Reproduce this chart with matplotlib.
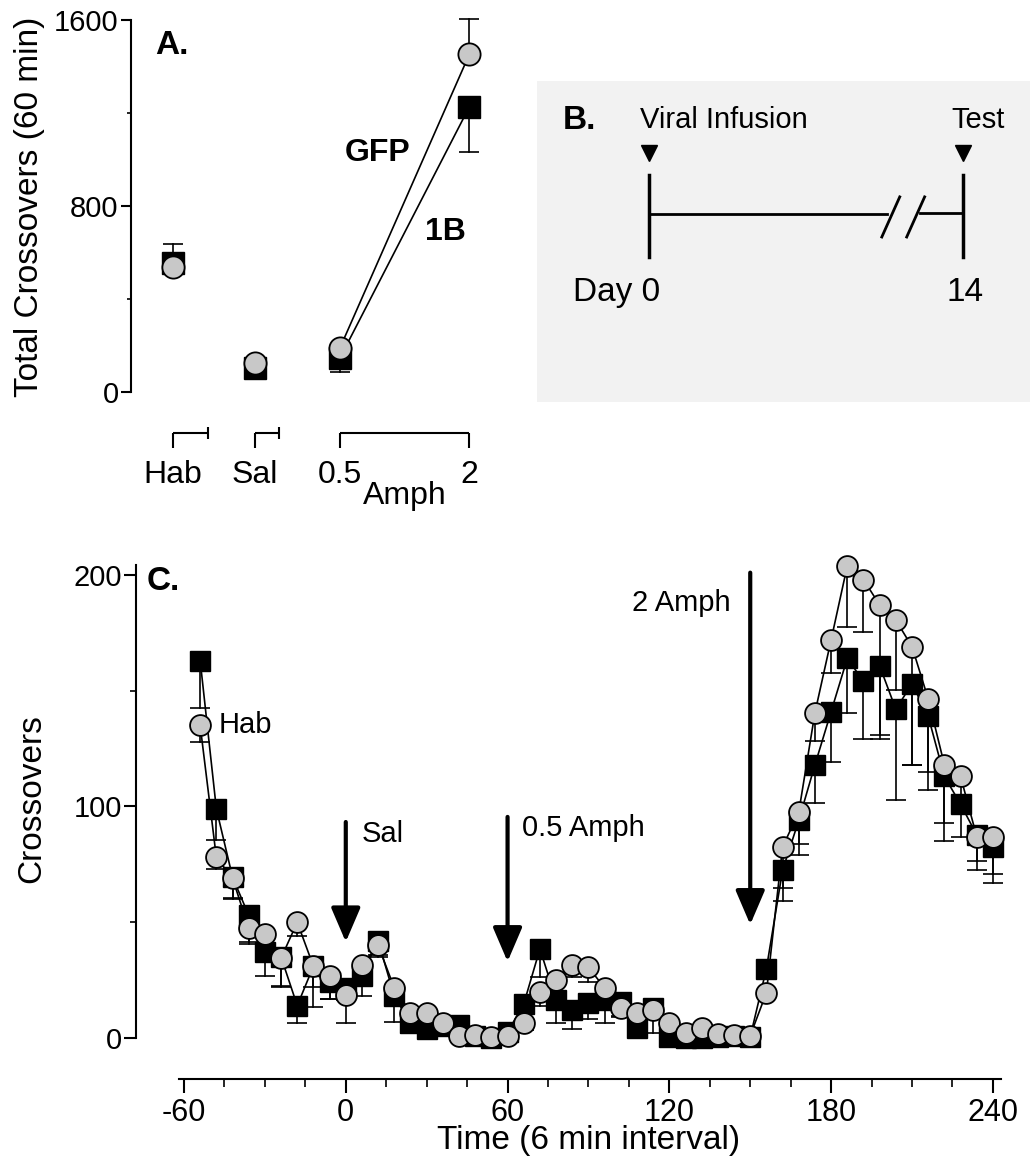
import matplotlib
matplotlib.use("Agg")
import matplotlib.pyplot as plt

plt.rcParams['font.family'] = ['Liberation Sans', 'DejaVu Sans']
plt.rcParams['axes.unicode_minus'] = False

# === DATA: panel A (total crossovers, 60 min) ===
COND_A = ['Hab', 'Sal', '0.5', '2']
X_A = [0, 0.98, 2.0, 3.55]          # horizontal slot of each condition
GFP_A = [538, 125, 189, 1452]
GFP_A_LO = [0, 0, 0, 0]
GFP_A_HI = [0, 0, 0, 152]
B1_A = [555, 103, 146, 1226]
B1_A_LO = [0, 0, 60, 194]
B1_A_HI = [81, 0, 0, 0]

# === DATA: panel C (crossovers per 6 min bin) ===
TIME = [-54, -48, -42, -36, -30, -24, -18, -12, -6,
        0, 6, 12, 18, 24, 30, 36, 42, 48, 54, 60,
        66, 72, 78, 84, 90, 96, 102, 108, 114, 120,
        126, 132, 138, 144, 150, 156, 162, 168, 174, 180,
        186, 192, 198, 204, 210, 216, 222, 228, 234, 240]
GFP_C = [135, 78, 69, 47.5, 45, 34.5, 50, 31, 27,
         18.6, 31.5, 40, 21.6, 11, 10.7, 6.5, 1, 1.3, 0.3, 1,
         6.5, 20, 25, 31.5, 30.6, 21.6, 13, 11, 12, 6.5,
         2.2, 4.3, 1.7, 1.3, 1, 19.6, 82.5, 97.6, 140.5, 172,
         204, 198, 187, 180.5, 169, 146.5, 118, 113, 87, 87]
GFP_C_ERR = [7, 5, 9, 7, 6, 12, 6, 9, 10,
             12, 5, 5, 5, 3, 3, 2, 1, 1, 0.5, 1,
             3, 6, 8, 5, 6.6, 6, 4, 2, 4, 2,
             1, 1, 1, 1, 1, 2, 17.5, 13.6, 12, 14.5,
             26.5, 22.5, 58, 30, 51, 31.5, 25, 10, 10.5, 16]
B1_C = [163, 99, 69.5, 53, 37, 35, 14, 31, 24,
        21.5, 27, 42, 18, 6.5, 4, 5, 5.6, 1, 0, 2.5,
        14.7, 38.5, 16.5, 12, 15, 16.4, 15.7, 4.3, 13, 0.5,
        0, 0, 0.4, 1, 0.5, 30, 72.5, 94, 118, 141,
        164, 154, 160.7, 142, 153, 139, 113, 101, 87.7, 82.5]
B1_C_ERR = [20.5, 13.5, 9, 11.5, 10, 13, 7.5, 17.5, 7,
            5, 9, 6, 11, 4.5, 2, 2, 2, 1, 0.5, 1,
            4, 12, 10, 8, 7, 10, 6, 2, 11, 0.5,
            0.5, 0.5, 0.5, 0.5, 0.5, 3, 13.5, 15, 16.5, 22,
            23.5, 25, 30, 39, 35, 31.7, 28, 14, 15, 15.5]

# injection arrows in panel C
ARROW_T = [0, 60, 150]
ARROW_TOP = [93.3, 95.5, 201]
ARROW_TIP = [41.5, 33, 49]

# === STYLE ===
FIG_W, FIG_H = 1030, 1164
GREY = '#c8c8c8'
TICK_FS = 21
LABEL_FS = 24
PANEL_FS = 24
LW = 1.2
CAP = 15
MS_C = 15

fig = plt.figure(figsize=(FIG_W / 100, FIG_H / 100), dpi=100)


def fig_rect(left, top, right, bottom):
    # pixel box -> figure fraction
    return [left / FIG_W, 1 - bottom / FIG_H,
            (right - left) / FIG_W, (bottom - top) / FIG_H]


def one_sided_err(ax, x, y, lo, hi, zorder):
    # only draw the bars that are really there (no caps for zero error)
    for xi, yi, l, h in zip(x, y, lo, hi):
        for end in (yi - l if l > 0 else None, yi + h if h > 0 else None):
            if end is None:
                continue
            ax.plot([xi, xi], [yi, end], color='k', lw=LW,
                    zorder=zorder, clip_on=False)
            ax.plot([xi], [end], marker='_', ms=CAP, mew=LW, color='k',
                    zorder=zorder, clip_on=False)


# === Panel A ===
axa = fig.add_axes(fig_rect(131, 20, 501, 392))
axa.set_xlim(-0.503, 3.93)
axa.set_ylim(0, 1600)
for s in ['top', 'right', 'bottom']:
    axa.spines[s].set_visible(False)
axa.spines['left'].set_linewidth(1.5)
axa.set_xticks([])
axa.set_yticks([0, 800, 1600])
axa.set_yticks([400, 1200], minor=True)
axa.tick_params(axis='y', which='major', length=7, width=1.5,
                labelsize=TICK_FS, pad=2)
axa.tick_params(axis='y', which='minor', length=3, width=1.2)

one_sided_err(axa, X_A, B1_A, B1_A_LO, B1_A_HI, 2)
one_sided_err(axa, X_A, GFP_A, GFP_A_LO, GFP_A_HI, 2)
axa.plot(X_A[2:], B1_A[2:], '-', color='k', lw=LW, zorder=3)
axa.plot(X_A[2:], GFP_A[2:], '-', color='k', lw=LW, zorder=3)
axa.plot(X_A, B1_A, 's', ms=16, mfc='k', mec='k', ls='none',
         zorder=4, clip_on=False)
axa.plot(X_A, GFP_A, 'o', ms=16, mfc=GREY, mec='k', mew=1.3, ls='none',
         zorder=5, clip_on=False)

axa.text(-0.216, 1492, 'A.', fontsize=PANEL_FS, fontweight='bold',
         ha='left', va='center')
axa.text(2.455, 1028, 'GFP', fontsize=23, fontweight='bold',
         ha='center', va='center')
axa.text(3.26, 688, '1B', fontsize=23, fontweight='bold',
         ha='center', va='center')

# bracket segments under the categories
brk_kw = dict(color='k', lw=1.5, clip_on=False, solid_capstyle='butt')
axa.plot([X_A[0], 0.42], [-176, -176], **brk_kw)
axa.plot([X_A[0], X_A[0]], [-176, -241], **brk_kw)
axa.plot([0.42, 0.42], [-150, -202], **brk_kw)
axa.plot([X_A[1], 1.27], [-176, -176], **brk_kw)
axa.plot([X_A[1], X_A[1]], [-176, -241], **brk_kw)
axa.plot([1.27, 1.27], [-150, -202], **brk_kw)
axa.plot([X_A[2], X_A[3]], [-176, -176], **brk_kw)
axa.plot([X_A[2], X_A[2]], [-176, -241], **brk_kw)
axa.plot([X_A[3], X_A[3]], [-176, -241], **brk_kw)
for x, lab in zip(X_A, COND_A):
    axa.text(x, -357, lab, fontsize=23, ha='center', va='center',
             clip_on=False)
axa.text((X_A[2] + X_A[3]) / 2, -448, 'Amph', fontsize=23,
         ha='center', va='center', clip_on=False)

fig.text(30 / FIG_W, 1 - 207 / FIG_H, 'Total Crossovers (60 min)',
         fontsize=LABEL_FS, rotation=90, ha='center', va='center')

# === Panel B: timeline ===
axb = fig.add_axes(fig_rect(537, 81, 1030, 402))
axb.set_facecolor('#f2f2f2')
axb.set_xlim(-4.99, 17)
axb.set_ylim(0, 1)
axb.set_xticks([])
axb.set_yticks([])
for s in axb.spines.values():
    s.set_visible(False)

axb.text(-3.83, 0.878, 'B.', fontsize=PANEL_FS, fontweight='bold',
         ha='left', va='center')
axb.text(-0.4, 0.878, 'Viral Infusion', fontsize=21, ha='left', va='center')
axb.text(13.5, 0.878, 'Test', fontsize=21, ha='left', va='center')
axb.plot([0, 14], [0.776, 0.776], 'v', color='k', ms=11, ls='none')
axb.plot([0, 0], [0.452, 0.707], color='k', lw=2.5)
axb.plot([14, 14], [0.452, 0.707], color='k', lw=2.5)
axb.plot([0, 10.6], [0.585, 0.585], color='k', lw=2)
axb.plot([12.1, 14], [0.589, 0.589], color='k', lw=2)
axb.plot([10.39, 11.19], [0.514, 0.639], color='k', lw=2)
axb.plot([11.5, 12.3], [0.514, 0.639], color='k', lw=2)
axb.text(0.5, 0.34, 'Day 0', fontsize=24, ha='right', va='center')
axb.text(14.1, 0.34, '14', fontsize=24, ha='center', va='center')

# === Panel C: time course ===
axc = fig.add_axes(fig_rect(136, 565, 1001, 1079))
axc.set_xlim(-77.8, 243)
axc.set_ylim(-17.7, 204.3)
axc.spines['top'].set_visible(False)
axc.spines['right'].set_visible(False)
axc.spines['left'].set_bounds(0, 204.3)
axc.spines['bottom'].set_bounds(-62, 243)
axc.spines['left'].set_linewidth(1.5)
axc.spines['bottom'].set_linewidth(1.5)
axc.set_yticks([0, 100, 200])
axc.set_yticks([50, 150], minor=True)
axc.set_xticks([-60, 0, 60, 120, 180, 240])
axc.set_xticks([-45, -30, -15, 15, 30, 45, 75, 90, 105, 135, 150, 165,
                195, 210, 225], minor=True)
axc.tick_params(axis='y', which='major', length=9, width=1.5,
                labelsize=TICK_FS, pad=1)
axc.tick_params(axis='y', which='minor', length=4.5, width=1.2)
axc.tick_params(axis='x', which='major', length=10, width=1.5,
                labelsize=22, pad=4)
axc.tick_params(axis='x', which='minor', length=6, width=1.2)

zeros = [0] * len(TIME)
one_sided_err(axc, TIME, B1_C, B1_C_ERR, zeros, 2)
one_sided_err(axc, TIME, GFP_C, GFP_C_ERR, zeros, 3)
axc.plot(TIME, B1_C, 's-', color='k', lw=LW, ms=MS_C, mfc='k', mec='k',
         zorder=2.5, clip_on=False)
axc.plot(TIME, GFP_C, 'o-', color='k', lw=LW, ms=MS_C, mfc=GREY, mec='k',
         mew=1.3, zorder=3.5, clip_on=False)

for t, top, tip in zip(ARROW_T, ARROW_TOP, ARROW_TIP):
    axc.annotate('', xy=(t, tip), xytext=(t, top),
                 arrowprops=dict(arrowstyle='-|>,head_length=1.4,head_width=0.6',
                                 color='k', lw=3, shrinkA=0, shrinkB=0,
                                 mutation_scale=15))

axc.text(-74, 197, 'C.', fontsize=PANEL_FS, fontweight='bold',
         ha='left', va='center')
axc.text(-47, 135, 'Hab', fontsize=21, ha='left', va='center')
axc.text(5.9, 88, 'Sal', fontsize=21, ha='left', va='center')
axc.text(65.2, 90.7, '0.5 Amph', fontsize=21, ha='left', va='center')
axc.text(106, 188, '2 Amph', fontsize=21, ha='left', va='center')

fig.text(32 / FIG_W, 1 - 799 / FIG_H, 'Crossovers', fontsize=LABEL_FS,
         rotation=90, ha='center', va='center')
fig.text(589 / FIG_W, 1 - 1141 / FIG_H, 'Time (6 min interval)',
         fontsize=LABEL_FS, ha='center', va='center')

fig.savefig('out.png', dpi=100)
